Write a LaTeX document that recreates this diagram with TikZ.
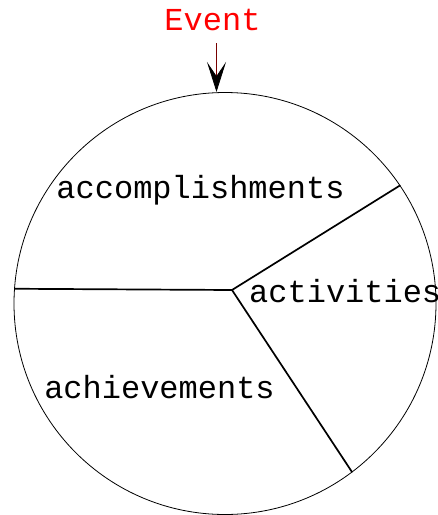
\documentclass[tikz,border=0pt]{standalone}
\usepackage{fontspec}
\setmonofont{Liberation Mono}
\usepackage{xcolor}
\usepackage{tikz}
\usetikzlibrary{arrows.meta,positioning}

\definecolor{eventred}{RGB}{255,0,0}
\definecolor{shaftred}{RGB}{120,0,0}

\begin{document}
\begin{tikzpicture}[
  x=1pt, y=-1pt,
  label/.style={font=\fontsize{32}{36}\selectfont\ttfamily, inner sep=0pt, anchor=base},
  event/.style={label, text=eventred, outer sep=13pt},
  disc/.style={draw, circle, line width=0.8pt, minimum size=422pt, inner sep=0pt},
  spoke/.style={line width=1.7pt},
  arrow/.style={-{Stealth[length=30pt, width=19pt, inset=14pt, black]}, draw=shaftred, line width=0.8pt},
]
\useasboundingbox (0,0) rectangle (438,515);

\node[disc] (disc) at (225,303.5) {};
\coordinate (hub) at (232,290);
\coordinate (hit) at (216.5,92);

\draw[spoke] (hub) -- (disc.176.4);
\draw[spoke] (hub) -- (disc.34.3);
\draw[spoke] (hub) -- (disc.-53.4);

\node[event] (event) at (212.5,30) {Event};
\draw[arrow] (event.south -| hit) -- (hit);

\node[label] (accomp) at (200.5,198.5) {accomplishments};
\node[label, anchor=base west] (activ) at (249,302) {activities};
\node[label] (achiev) at (159.5,398) {achievements};

\end{tikzpicture}
\end{document}
